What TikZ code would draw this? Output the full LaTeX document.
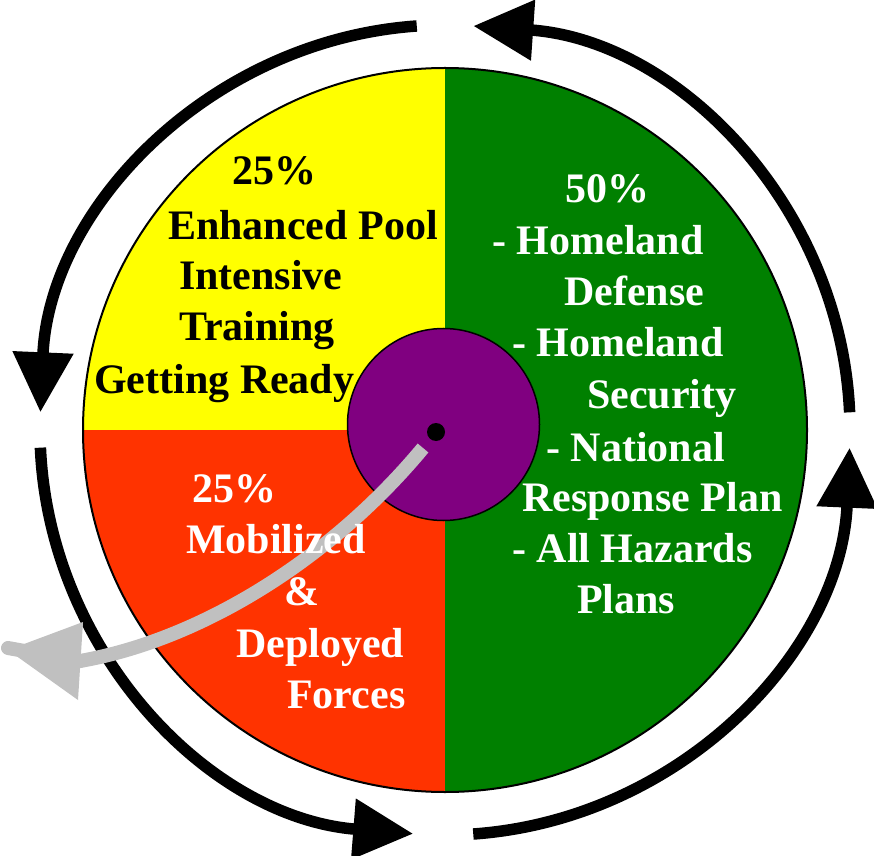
\documentclass[tikz,border=0pt]{standalone}
\usepackage{fontspec}
\setmainfont{Liberation Serif}
\usetikzlibrary{arrows.meta,calc}
\definecolor{pieyellow}{HTML}{FFFF00}
\definecolor{piered}{HTML}{FF3300}
\definecolor{piegreen}{HTML}{008000}
\definecolor{hubpurple}{HTML}{800080}
\definecolor{pointergray}{HTML}{C0C0C0}
\tikzset{
  lbl/.style={inner sep=0pt, anchor=base west, font=\fontsize{42}{50}\selectfont\bfseries},
  dark/.style={lbl, text=black},
  light/.style={lbl, text=white},
  cyclearc/.style={line width=11.5pt, draw=black, -{Triangle[length=60pt,width=58pt]}},
}
\begin{document}
\begin{tikzpicture}[x=1pt,y=1pt]
\useasboundingbox (0,0) rectangle (874,855);
\coordinate (C) at (445,425);
\def\R{362pt}
\def\Ra{405pt}
% pie sectors
\fill[pieyellow] (C) -- ($(C)+(90:\R)$) arc[start angle=90,end angle=180,radius=\R] -- cycle;
\fill[piered] (C) -- ($(C)+(180:\R)$) arc[start angle=180,end angle=270,radius=\R] -- cycle;
\fill[piegreen] (C) -- ($(C)+(270:\R)$) arc[start angle=270,end angle=450,radius=\R] -- cycle;
\draw[line width=2pt] (C) circle[radius=\R];
% cycle arrows
\draw[cyclearc] ($(C)+(2.5:\Ra)$) arc[start angle=2.5,end angle=86,radius=\Ra];
\draw[cyclearc] ($(C)+(94:\Ra)$) arc[start angle=94,end angle=177.5,radius=\Ra];
\draw[cyclearc] ($(C)+(182.5:\Ra)$) arc[start angle=182.5,end angle=265.5,radius=\Ra];
\draw[cyclearc] ($(C)+(274:\Ra)$) arc[start angle=274,end angle=357.5,radius=\Ra];
% hub
\node[circle, fill=hubpurple, draw=black, line width=1.5pt, minimum size=192pt, inner sep=0pt] (hub) at (443.5,430.5) {};
\node[circle, fill=black, minimum size=18pt, inner sep=0pt] (dot) at (436,423) {};
% pointer
\coordinate (ps) at (423,407);
\coordinate (pe) at (80,194);
\coordinate (pt) at (8,207);
\draw[pointergray, line width=14pt] (ps) .. controls (330,295) and (200,215) .. (pe);
\draw[pointergray, line width=14pt, line cap=round] (pe) -- (pt);
\fill[pointergray] (83,233) -- (78,155) -- (8,205) -- cycle;
% texts
\node[dark] (y1) at (232,670) {25\%};
\node[dark] (y2) at (168,615) {Enhanced Pool};
\node[dark] (y3) at (179,565) {Intensive};
\node[dark] (y4) at (179,514) {Training};
\node[dark] (y5) at (94,462) {Getting Ready};
\node[light] (g1) at (565,652) {50\%};
\node[light] (g2) at (492,600) {- Homeland};
\node[light] (g3) at (564,549) {Defense};
\node[light] (g4) at (512,498) {- Homeland};
\node[light] (g5) at (587,447) {Security};
\node[light] (g6) at (546,394) {- National};
\node[light] (g7) at (522,344) {Response Plan};
\node[light] (g8) at (512,293) {- All Hazards};
\node[light] (g9) at (577,242) {Plans};
\node[light] (r1) at (192,353) {25\%};
\node[light] (r2) at (186,302) {Mobilized};
\node[light] (r3) at (284,250) {\&};
\node[light] (r4) at (236,198) {Deployed};
\node[light] (r5) at (287,147) {Forces};
\end{tikzpicture}
\end{document}
